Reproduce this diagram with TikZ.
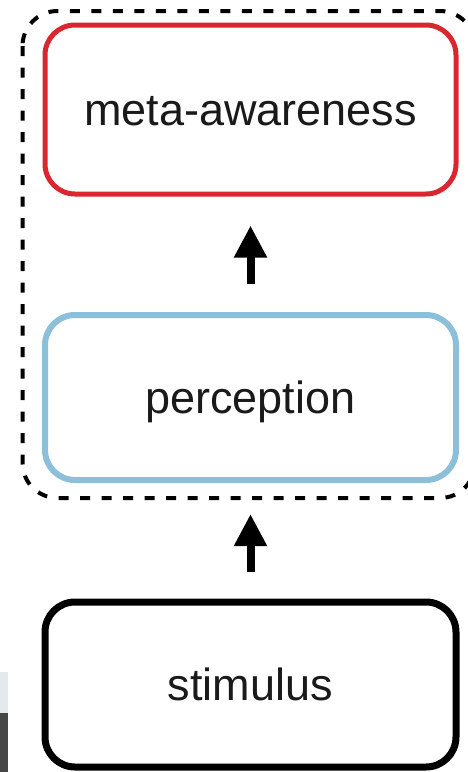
\documentclass[tikz,border=0pt]{standalone}
\usepackage{fontspec}
\setmainfont{Liberation Sans}
\usetikzlibrary{arrows.meta}

\definecolor{metared}{RGB}{218,38,46}
\definecolor{percblue}{RGB}{140,192,218}
\definecolor{inktext}{RGB}{26,26,26}
\definecolor{edgelight}{RGB}{227,234,237}
\definecolor{edgedark}{RGB}{70,70,70}

\tikzset{
  stagebox/.style={rectangle, rounded corners=30pt, minimum width=411pt,
    minimum height=165pt, inner sep=0pt, text=inktext,
    font=\fontsize{45}{54}\selectfont, text height=32pt, text depth=0pt},
  uparrow/.style={line width=8pt, -{Triangle[length=32pt,width=31pt]}},
  groupframe/.style={line width=4pt, dash pattern=on 10pt off 11.5pt,
    rounded corners=35pt},
}

\begin{document}
\begin{tikzpicture}[x=1pt, y=-1pt]
  \useasboundingbox (0,0) rectangle (467,772);
  \fill[white] (0,0) rectangle (467,772);

  % stray strip along the lower left border
  \fill[edgelight] (0,672) rectangle (8,713);
  \fill[edgedark] (0,713) rectangle (8,772);

  % dashed frame around the two inner stages
  \draw[groupframe] (22.5,11) rectangle (475,498);

  \node[stagebox, draw=metared, line width=5pt, minimum height=169pt]
    (meta) at (250.5,109.5) {meta-awareness};
  \node[stagebox, draw=percblue, line width=6pt]
    (perc) at (250.5,397.5) {perception};
  \node[stagebox, draw=black, line width=7pt]
    (stim) at (250.5,684.5) {stimulus};

  \draw[uparrow, shorten <=28pt, shorten >=29pt] (perc.north) -- (meta.south);
  \draw[uparrow, shorten <=27pt, shorten >=31pt] (stim.north) -- (perc.south);
\end{tikzpicture}
\end{document}
